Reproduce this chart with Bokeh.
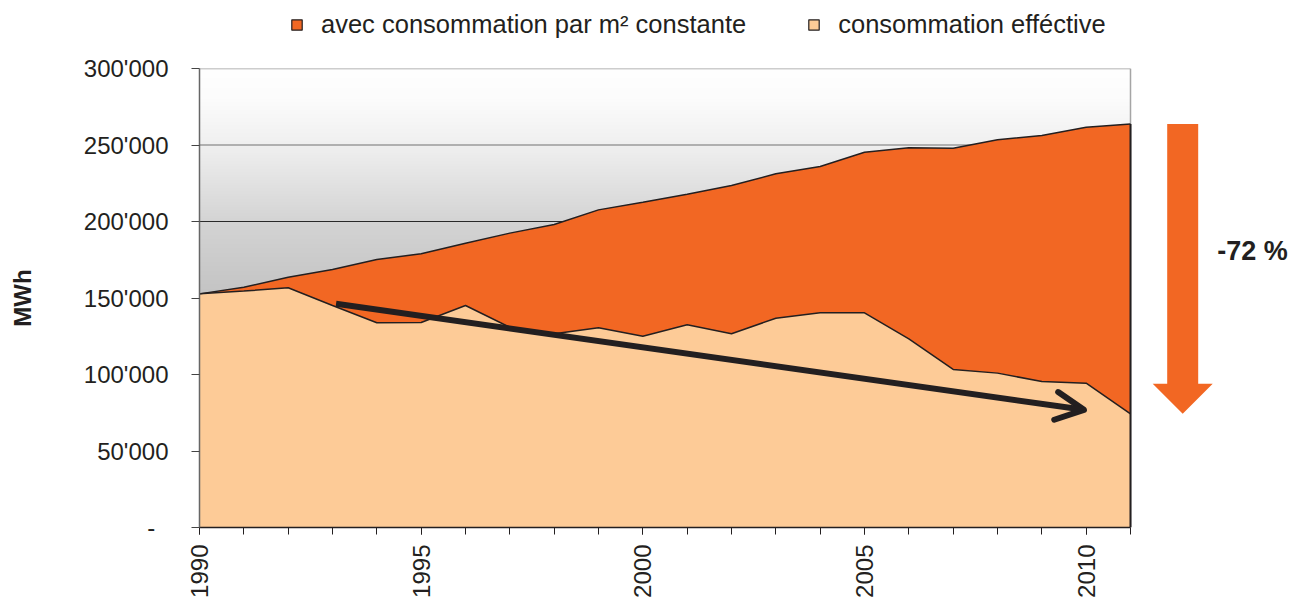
import numpy as np
from bokeh.plotting import figure
from bokeh.layouts import column
from bokeh.models import (Range1d, FixedTicker, Legend, LegendItem, Arrow,
                          OpenHead, Label, ColumnDataSource)
from bokeh.embed import file_html
from bokeh.resources import INLINE

# ---------------- data ----------------
years = list(range(1990, 2012))
constant = [152700, 157000, 163600, 168600, 175200, 178900, 185800, 192400, 198000, 207600,
            212600, 217800, 223500, 231200, 235900, 245300, 248200, 247900, 253400, 256200,
            261600, 263800]
effective = [152700, 154500, 156700, 145100, 133800, 134000, 145100, 130900, 126600, 130500,
             125000, 132500, 126600, 136800, 140300, 140300, 123300, 103300, 100900, 95400,
             94300, 74300]
series_names = ["avec consommation par m² constante", "consommation efféctive"]
x_major_ticks = [1990, 1995, 2000, 2005, 2010]
y_ticks = [0, 50000, 100000, 150000, 200000, 250000, 300000]
y_tick_labels = ["-\u00a0\u00a0", "50'000", "100'000", "150'000", "200'000", "250'000", "300'000"]
trend_years = [1993.08, 2009.95]
trend_values = [146200, 76900]

# ---------------- style ----------------
ORANGE = "#F26723"
PEACH = "#FDCB97"
DARK = "#231F20"
FONT = "Liberation Sans"
LEFT = 199
FRAME_W, FRAME_H = 1099, 459
LEG_H = 50
PX_PER_YEAR = 931 / 21
X_END = 1990 + FRAME_W / PX_PER_YEAR
Y_MAX = 300000
VAL_PER_PX = Y_MAX / FRAME_H

# ---------------- legend strip ----------------
lf = figure(frame_width=LEFT + FRAME_W, frame_height=LEG_H, x_range=Range1d(0, 1),
            y_range=Range1d(0, 1), x_axis_type=None, y_axis_type=None,
            output_backend="svg", toolbar_location=None,
            min_border_left=0, min_border_right=0, min_border_top=0, min_border_bottom=0)
lf.outline_line_color = None
lf.xgrid.visible = False
lf.ygrid.visible = False
# legend proxies (kept outside the strip's visible range)
leg_c = lf.quad(left=[-3], right=[-2], top=[-2], bottom=[-3],
                fill_color=ORANGE, line_color=DARK, line_width=1.2)
leg_e = lf.quad(left=[-3], right=[-2], top=[-2], bottom=[-3],
                fill_color=PEACH, line_color=DARK, line_width=1.2)
legend = Legend(items=[LegendItem(label=series_names[0], renderers=[leg_c]),
                       LegendItem(label=series_names[1], renderers=[leg_e])],
                location=(290, 11), orientation="horizontal", padding=0, margin=0,
                spacing=61, glyph_width=13, glyph_height=13, label_standoff=18,
                label_height=13, border_line_color=None, background_fill_alpha=0,
                label_text_font=FONT, label_text_font_size="25.5px", label_text_color=DARK)
lf.add_layout(legend)

# ---------------- main chart ----------------
p = figure(frame_width=FRAME_W, frame_height=FRAME_H,
           x_range=Range1d(years[0], X_END), y_range=Range1d(0, Y_MAX),
           output_backend="svg", toolbar_location=None,
           min_border_left=LEFT, min_border_top=68 - LEG_H, min_border_bottom=0, min_border_right=0)
p.outline_line_color = None
p.xgrid.visible = False
p.ygrid.visible = False
p.background_fill_color = "white"

# background gradient (plot area only, years[0]..years[-1])
N = FRAME_H
stops_v = [0, 150000, 200000, 250000, 280000, 300000]
stops_g = [190, 195, 212, 240, 252, 255]
centers = (np.arange(N) + 0.5) / N * Y_MAX
gray = np.interp(centers, stops_v, stops_g).astype(np.uint8)
img = np.empty((N, 1), dtype=np.uint32)
view = img.view(dtype=np.uint8).reshape((N, 1, 4))
view[:, 0, 0] = gray
view[:, 0, 1] = gray
view[:, 0, 2] = gray
view[:, 0, 3] = 255
p.image_rgba(image=[img], x=years[0], y=0, dw=years[-1] - years[0], dh=Y_MAX, level="image")

# grid lines limited to the plot area
light_ticks = [t for t in y_ticks if t >= 250000]
dark_ticks = [t for t in y_ticks if 0 < t < 250000]
p.segment(x0=[years[0]] * len(light_ticks), x1=[years[-1]] * len(light_ticks),
          y0=light_ticks, y1=light_ticks, line_color="#9b9b9b", line_width=1.5, level="underlay")
p.segment(x0=[years[0]] * len(dark_ticks), x1=[years[-1]] * len(dark_ticks),
          y0=dark_ticks, y1=dark_ticks, line_color="#2a2a2a", line_width=1, level="underlay")
p.segment(x0=[years[-1]], x1=[years[-1]], y0=[0], y1=[Y_MAX],
          line_color="#a5a5a5", line_width=1.5, level="underlay")

src = ColumnDataSource(dict(year=years, constant=constant, effective=effective))
p.varea(x="year", y1=0, y2="constant", source=src, fill_color=ORANGE)
p.varea(x="year", y1=0, y2="effective", source=src, fill_color=PEACH)
p.line("year", "constant", source=src, line_color=DARK, line_width=1.5)
p.line("year", "effective", source=src, line_color=DARK, line_width=1.5)
p.segment(x0=[years[-1]], y0=[0], x1=[years[-1]], y1=[constant[-1]], line_color=DARK, line_width=2)

# trend arrow
p.add_layout(Arrow(end=OpenHead(size=28, line_width=6, line_color=DARK, line_cap="round",
                                line_join="round"),
                   x_start=trend_years[0], y_start=trend_values[0],
                   x_end=trend_years[1], y_end=trend_values[1],
                   line_width=6, line_color=DARK))

# big reduction arrow
xc = years[0] + 983.2 / PX_PER_YEAR
shaft_hw = 15.5 / PX_PER_YEAR
head_hw = 30 / PX_PER_YEAR
head_len = 30 * VAL_PER_PX
top, tip = constant[-1], effective[-1]
p.patch([xc - shaft_hw, xc + shaft_hw, xc + shaft_hw, xc + head_hw, xc, xc - head_hw, xc - shaft_hw],
        [top, top, tip + head_len, tip + head_len, tip, tip + head_len, tip + head_len],
        fill_color=ORANGE, line_color=None)
pct = round((1 - effective[-1] / constant[-1]) * 100)
p.add_layout(Label(x=years[0] + 1053 / PX_PER_YEAR, y=180800, text=f"-{pct} %",
                   text_align="center", text_baseline="middle", text_font=FONT,
                   text_font_size="27px", text_font_style="bold", text_color=DARK))

# axes
xa = p.xaxis[0]
xa.ticker = FixedTicker(ticks=x_major_ticks, minor_ticks=years)
xa.bounds = (years[0], years[-1])
xa.major_label_orientation = np.pi / 2
xa.major_label_text_font = FONT
xa.major_label_text_font_size = "24px"
xa.major_label_text_color = DARK
xa.major_label_standoff = 10
xa.axis_line_color = DARK
xa.axis_line_width = 1.5
xa.major_tick_line_color = DARK
xa.minor_tick_line_color = DARK
xa.major_tick_out = 7
xa.major_tick_in = 0
xa.minor_tick_out = 7
xa.minor_tick_in = 0

ya = p.yaxis[0]
ya.ticker = FixedTicker(ticks=y_ticks)
ya.major_label_overrides = dict(zip(y_ticks, y_tick_labels))
ya.major_label_text_font = FONT
ya.major_label_text_font_size = "24px"
ya.major_label_text_color = DARK
ya.major_label_standoff = 23
ya.axis_line_color = "#666666"
ya.axis_line_width = 1.5
ya.major_tick_line_color = "#444444"
ya.major_tick_out = 8
ya.major_tick_in = 0
ya.minor_tick_out = 0
ya.minor_tick_in = 0
ya.axis_label = "MWh"
ya.axis_label_text_font = FONT
ya.axis_label_text_font_size = "24px"
ya.axis_label_text_font_style = "bold"
ya.axis_label_text_color = DARK
ya.axis_label_standoff = 45

layout = column(lf, p, spacing=0)
open("out.html", "w").write(file_html(layout, INLINE))
